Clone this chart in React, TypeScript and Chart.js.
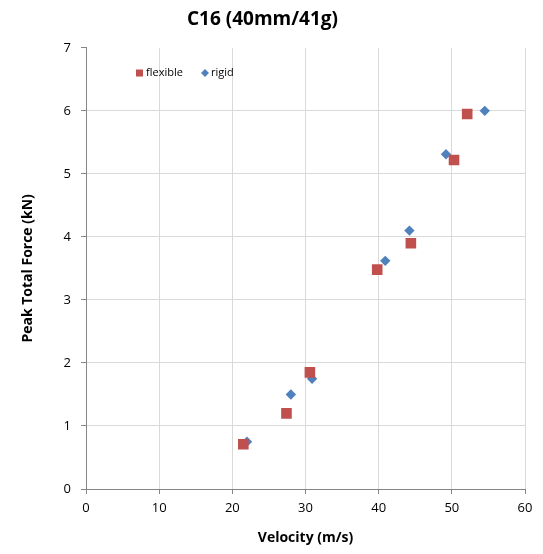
import React, { useEffect, useRef } from "react";
import { Chart, registerables } from "chart.js";

Chart.register(...registerables);

const chartTitle = "C16 (40mm/41g)";
const xTitle = "Velocity (m/s)";
const yTitle = "Peak Total Force (kN)";

const flexibleX = [21.5, 27.4, 30.6, 39.8, 44.4, 50.3, 52.1];
const flexibleY = [0.71, 1.2, 1.85, 3.48, 3.9, 5.22, 5.95];
const rigidX = [22.0, 28.0, 30.9, 40.9, 44.2, 49.2, 54.5];
const rigidY = [0.75, 1.5, 1.75, 3.62, 4.1, 5.31, 6.0];

const seriesNames = ["flexible", "rigid"];
const seriesColors = ["#c0504d", "#4f81bd"];

const FONT = "'Open Sans', 'Liberation Sans', sans-serif";

const legendPlugin = {
  id: "insideLegend",
  afterDraw(chart: any) {
    const ctx = chart.ctx;
    ctx.save();
    ctx.font = `11px ${FONT}`;
    ctx.textBaseline = "middle";
    const y = 73;
    ctx.fillStyle = seriesColors[0];
    ctx.fillRect(136, y - 3.5, 7, 7);
    ctx.fillStyle = "#000";
    ctx.fillText(seriesNames[0], 146, y);
    ctx.fillStyle = seriesColors[1];
    ctx.beginPath();
    ctx.moveTo(205, y - 4);
    ctx.lineTo(209, y);
    ctx.lineTo(205, y + 4);
    ctx.lineTo(201, y);
    ctx.closePath();
    ctx.fill();
    ctx.fillStyle = "#000";
    ctx.fillText(seriesNames[1], 211, y);
    ctx.restore();
  },
};

export default function App() {
  const ref = useRef<HTMLCanvasElement>(null);
  useEffect(() => {
    document.body.style.margin = "0";
    const chart = new Chart(ref.current!, {
      type: "scatter",
      data: {
        datasets: [
          {
            label: seriesNames[0],
            data: flexibleX.map((x, i) => ({ x, y: flexibleY[i] })),
            backgroundColor: seriesColors[0],
            borderColor: seriesColors[0],
            pointStyle: "rect",
            pointRadius: 7.5,
            pointHoverRadius: 7.5,
            borderWidth: 0,
          },
          {
            label: seriesNames[1],
            data: rigidX.map((x, i) => ({ x, y: rigidY[i] })),
            backgroundColor: seriesColors[1],
            borderColor: seriesColors[1],
            pointStyle: "rectRot",
            pointRadius: 5.2,
            pointHoverRadius: 5.2,
            borderWidth: 0,
          },
        ],
      },
      options: {
        animation: false,
        responsive: false,
        maintainAspectRatio: false,
        layout: { padding: { left: 0, right: 18, top: 0, bottom: 0 } },
        plugins: {
          legend: { display: false },
          tooltip: { enabled: false },
          title: {
            display: true,
            text: chartTitle,
            color: "#000",
            font: { family: FONT, size: 19, weight: "bold", lineHeight: 1.2 },
            padding: { top: 8, bottom: 17 },
          },
        },
        scales: {
          x: {
            type: "linear",
            min: 0,
            max: 60,
            ticks: {
              stepSize: 10,
              color: "#000",
              font: { family: FONT, size: 13 },
              padding: 6,
              maxRotation: 0,
            },
            grid: {
              color: "#d9d9d9",
              tickColor: "#868686",
              tickLength: 5,
              lineWidth: 1,
            },
            border: { color: "#868686", width: 1 },
            title: {
              display: true,
              text: xTitle,
              color: "#000",
              font: { family: FONT, size: 14, weight: "bold", lineHeight: 1.2 },
              padding: { top: 4, bottom: 8 },
            },
            afterFit: (s: any) => {
              s.height = 65;
            },
          },
          y: {
            type: "linear",
            min: 0,
            max: 7,
            ticks: {
              stepSize: 1,
              color: "#000",
              font: { family: FONT, size: 13 },
              padding: 10,
            },
            grid: {
              color: (c: any) => (c.tick && c.tick.value === 7 ? "rgba(0,0,0,0)" : "#d9d9d9"),
              tickColor: "#868686",
              tickLength: 5,
              lineWidth: 1,
            },
            border: { color: "#868686", width: 1 },
            title: {
              display: true,
              text: yTitle,
              color: "#000",
              font: { family: FONT, size: 14, weight: "bold", lineHeight: 1.2 },
              padding: { top: 20, bottom: 4 },
            },
            afterFit: (s: any) => {
              s.width = 86;
            },
          },
        },
      },
      plugins: [legendPlugin],
    });
    return () => chart.destroy();
  }, []);
  return (
    <div style={{ width: 543, height: 554, background: "#fff" }}>
      <canvas ref={ref} width={543} height={554} style={{ display: "block" }} />
    </div>
  );
}
